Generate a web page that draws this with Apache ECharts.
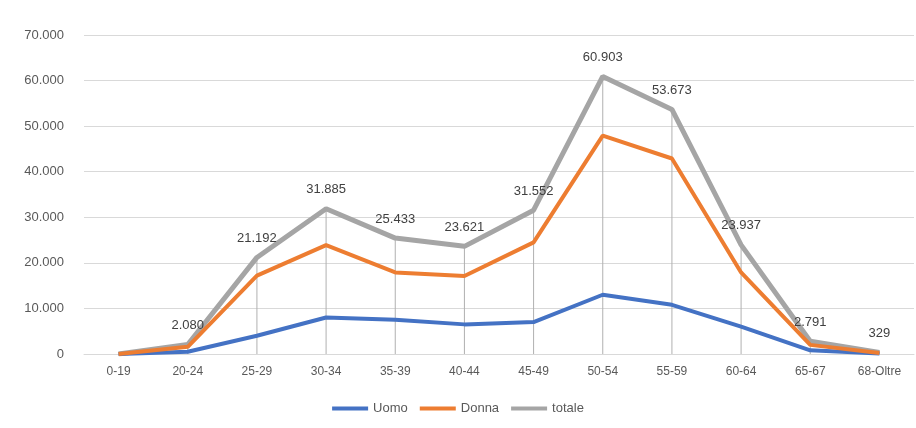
<!DOCTYPE html>
<html>
<head>
<meta charset="utf-8">
<script src="https://cdn.jsdelivr.net/npm/echarts@6/dist/echarts.min.js"></script>
<style>html,body{margin:0;padding:0;background:#fff}#chart{width:916px;height:428px}</style>
</head>
<body>
<div id="chart"></div>
<script>
var categories = ['0-19','20-24','25-29','30-34','35-39','40-44','45-49','50-54','55-59','60-64','65-67','68-Oltre'];
var uomo = [0, 500, 4000, 8000, 7500, 6500, 7000, 13000, 10800, 6000, 800, 100];
var donna = [0, 1580, 17200, 23900, 17900, 17100, 24500, 47900, 42900, 17900, 2000, 230];
var totale = [0, 2080, 21192, 31885, 25433, 23621, 31552, 60903, 53673, 23937, 2791, 329];

var chart = echarts.init(document.getElementById('chart'));
var fmt = function (v) { return String(v).replace(/\B(?=(\d{3})+(?!\d))/g, '.'); };
chart.setOption({
    animation: false,
    textStyle: { fontFamily: 'Liberation Sans', color: '#595959' },
    grid: { left: 84, right: 2, top: 35, bottom: 74 },
    legend: {
        bottom: 8,
        itemWidth: 36, itemHeight: 4, itemGap: 12,
        icon: 'rect',
        textStyle: { fontSize: 13, color: '#595959' },
        data: ['Uomo', 'Donna', 'totale']
    },
    xAxis: {
        type: 'category',
        data: categories,
        axisTick: { show: false },
        axisLine: { lineStyle: { color: '#d9d9d9' } },
        axisLabel: { color: '#595959', fontSize: 12, margin: 12 }
    },
    yAxis: {
        type: 'value',
        min: 0, max: 70000, interval: 10000,
        axisLabel: { color: '#595959', fontSize: 13, formatter: fmt, margin: 20 },
        splitLine: { lineStyle: { color: '#d9d9d9' } }
    },
    series: [
        { name: 'drop', type: 'bar', data: totale, barWidth: 1, silent: true,
          itemStyle: { color: '#b0b0b0' }, z: 1 },
        { name: 'Uomo', type: 'line', data: uomo, symbol: 'none',
          lineStyle: { width: 4, color: '#4472C4' }, itemStyle: { color: '#4472C4' }, z: 3 },
        { name: 'Donna', type: 'line', data: donna, symbol: 'none',
          lineStyle: { width: 4, color: '#ED7D31' }, itemStyle: { color: '#ED7D31' }, z: 3 },
        { name: 'totale', type: 'line', data: totale, symbol: 'circle', symbolSize: 1, showSymbol: true,
          lineStyle: { width: 5, color: '#A5A5A5' }, itemStyle: { color: '#A5A5A5' }, z: 2,
          labelLayout: { hideOverlap: false },
          label: { show: true, position: 'top', distance: 12, color: '#404040', fontSize: 13,
                   formatter: function (p) { return p.dataIndex === 0 ? '' : fmt(p.value); } } }
    ]
});
window.onresize = function () { chart.resize(); };
</script>
</body>
</html>
